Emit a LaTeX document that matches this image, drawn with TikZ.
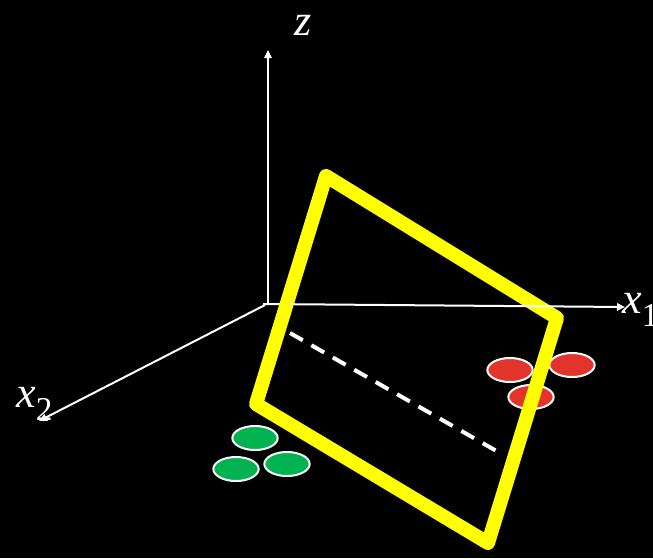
\documentclass[tikz,border=0pt]{standalone}
\usepackage{fontspec}
\setmainfont{Liberation Serif}
\usetikzlibrary{arrows.meta,shapes.geometric}
\definecolor{dotred}{RGB}{226,52,44}
\definecolor{dotgreen}{RGB}{0,178,80}
\definecolor{planeyellow}{RGB}{255,255,0}
\begin{document}
\begin{tikzpicture}[x=0.75pt,y=-0.75pt,
  axis/.style={white, line width=1.5pt, -{Triangle[length=6pt,width=5.5pt]}},
  lbl/.style={text=white, inner sep=0pt, font=\fontsize{33}{38}\selectfont\itshape},
  dot/.style={ellipse, draw=white, line width=1.5pt, minimum width=34pt, minimum height=18pt, inner sep=0pt},
  plane/.style={draw=planeyellow, line width=10.5pt, line join=round},
  dashline/.style={white, line width=3pt, dash pattern=on 11pt off 7.5pt}
]
\fill[black] (0,0) rectangle (653,558);
\useasboundingbox (0,0) rectangle (653,558);

% axes
\coordinate (O) at (268,304);
\coordinate (Ox) at (263,304);
\coordinate (Zend) at (268,50);
\coordinate (X1end) at (625,307);
\coordinate (X2start) at (265,305);
\coordinate (X2end) at (39,421);
\draw[axis] (O) -- (Zend);
\draw[white, line width=1.5pt] (Ox) -- (290,304.2);
\draw[axis] (X2start) -- (X2end);

% labels
\node[lbl, anchor=base] (zl) at (303,35) {z};
\node[lbl, anchor=base west] (x1l) at (622,313) {x\raisebox{-10pt}{\upshape\fontsize{25}{27}\selectfont 1}};
\node[lbl, anchor=base west] (x2l) at (16,407) {x\raisebox{-10pt}{\upshape\fontsize{25}{27}\selectfont 2}};

% dots
\node[dot, fill=dotred] (r1) at (510,370) {};
\node[dot, fill=dotred] (r2) at (572,365) {};
\node[dot, fill=dotred] (r3) at (531,397) {};
\node[dot, fill=dotgreen] (g1) at (255,438) {};
\node[dot, fill=dotgreen] (g2) at (236,469) {};
\node[dot, fill=dotgreen] (g3) at (287,464) {};

% plane
\coordinate (A) at (326,176);
\coordinate (B) at (557,318);
\coordinate (C) at (488,543);
\coordinate (D) at (256,404);
\draw[plane] (A) -- (B) -- (C) -- (D) -- cycle;

% x1 axis over the plane on the right
\draw[axis] (290,304.2) -- (X1end);

% dashed line
\coordinate (P) at (290,333);
\coordinate (Q) at (500,453);
\draw[dashline] (P) -- (Q);
\end{tikzpicture}
\end{document}
